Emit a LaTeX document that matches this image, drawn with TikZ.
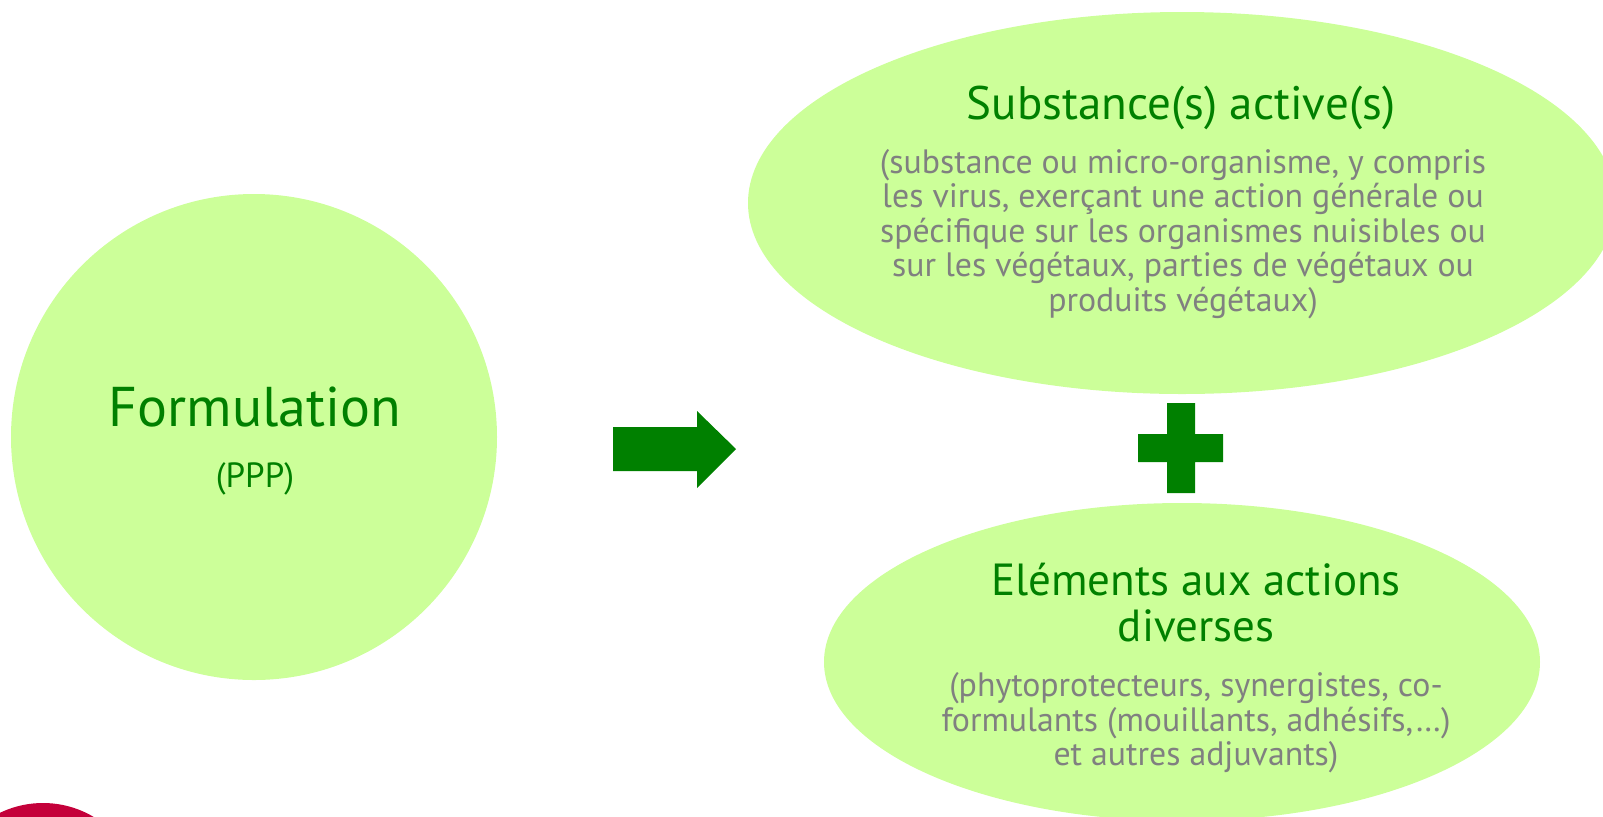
\documentclass[tikz,border=0pt]{standalone}
\usepackage{fontspec}
\setmainfont{PT Sans}
\usetikzlibrary{shapes.geometric, positioning}
\definecolor{bubbleGreen}{HTML}{CCFF99}
\definecolor{titleGreen}{HTML}{008000}
\definecolor{noteGray}{HTML}{808080}
\definecolor{logoRed}{HTML}{C4003A}

\begin{document}
\begin{tikzpicture}[
    x=0.5pt, y=-0.5pt,
    % Bubble Styles
    bubble/.style={
        fill=bubbleGreen,
        draw=none,
        inner sep=0pt,
        outer sep=0pt
    },
    % Green Headings
    heading/.style={
        text=titleGreen,
        align=center,
        font=\fontsize{22.5}{23}\selectfont
    },
    % Gray Explanations
    note/.style={
        text=noteGray,
        align=center,
        font=\fontsize{16.9}{17.3}\selectfont
    },
    % Block Symbols
    symbol/.style={
        fill=titleGreen,
        draw=none
    }
]
\useasboundingbox (0,0) rectangle (1603,816);
\clip (0,0) rectangle (1603,816);

% --- BUBBLES ---
\node[bubble, circle, minimum size=243pt] (Formulation) at (254,437) {};
\node[bubble, ellipse, minimum width=434pt, minimum height=191pt] (Active) at (1182,203) {};
\node[bubble, ellipse, minimum width=358pt, minimum height=159pt] (Elements) at (1182,662) {};

% --- LEFT: FORMULATION ---
\node[heading, font=\fontsize{28}{32}\selectfont] (FormTitle) at (255,407) {Formulation};
\node[heading, font=\fontsize{17.5}{18}\selectfont] (FormNote) at (255,479) {(PPP)};

% --- TOP: ACTIVE SUBSTANCES ---
\node[heading, font=\fontsize{23.5}{24}\selectfont] (ActiveTitle) at (1181,108) {Substance(s) active(s)};
\node[note] (ActiveNote) at (1183,234) {(substance ou micro-organisme, y compris\\les virus, exerçant une action générale ou\\spécifique sur les organismes nuisibles ou\\sur les végétaux, parties de végétaux ou\\produits végétaux)};

% --- BOTTOM: OTHER ELEMENTS ---
\node[heading] (ElemTitle) at (1196,603) {Eléments aux actions\\diverses};
\node[note] (ElemNote) at (1196,723) {(phytoprotecteurs, synergistes, co-\\formulants (mouillants, adhésifs,…)\\et autres adjuvants)};

% --- ARROW AND PLUS ---
\fill[symbol] (613,427) -- (697,427) -- (697,411) -- (736,449) -- (697,488) -- (697,471) -- (613,471) -- cycle;
\fill[symbol] (1167,403) -- (1195,403) -- (1195,434) -- (1223,434) -- (1223,462) -- (1195,462)
    -- (1195,493) -- (1167,493) -- (1167,462) -- (1138,462) -- (1138,434) -- (1167,434) -- cycle;

% --- LOGO CORNER ---
\fill[logoRed] (43,902) circle[radius=49.5pt];

\end{tikzpicture}
\end{document}
